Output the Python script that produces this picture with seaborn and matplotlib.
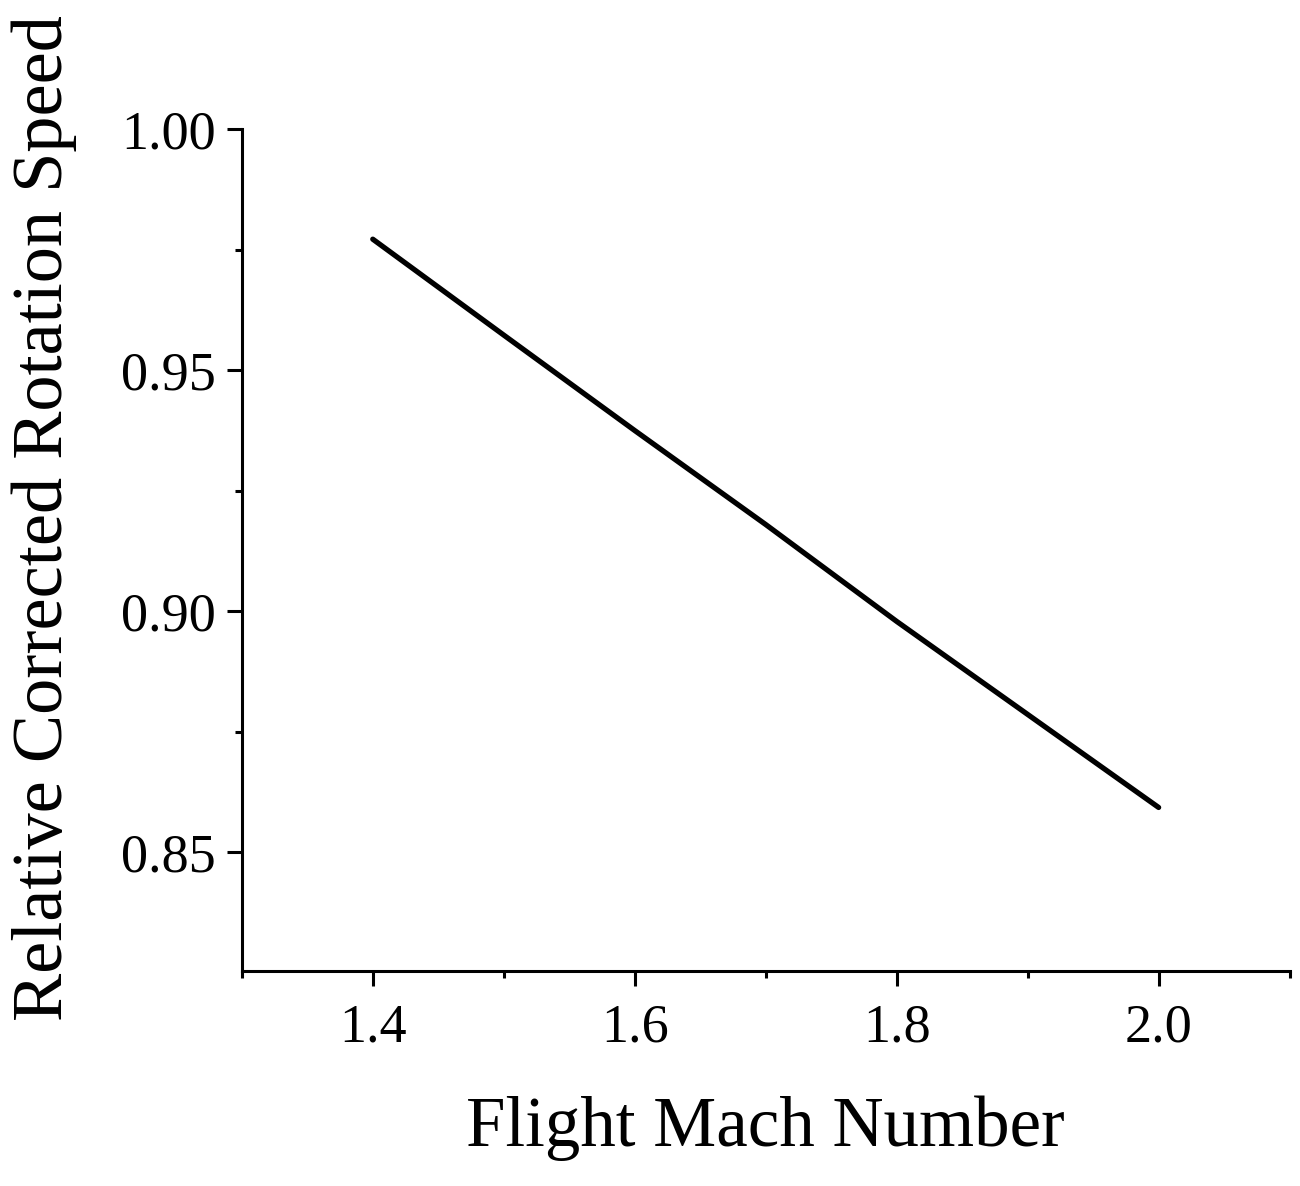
import matplotlib.pyplot as plt
from matplotlib.ticker import MultipleLocator
import pandas as pd
import seaborn as sns

# Data
mach = [1.4, 1.5, 1.6, 1.7, 1.8, 1.9, 2.0]
speed = [0.9772, 0.9573, 0.9375, 0.9180, 0.8979, 0.8786, 0.8593]

df = pd.DataFrame({'mach': mach, 'speed': speed})

sns.set_style('ticks')
plt.rcParams['font.family'] = ['Liberation Serif', 'DejaVu Serif']
plt.rcParams['text.color'] = 'black'
plt.rcParams['axes.labelcolor'] = 'black'

fig = plt.figure(figsize=(13, 11.86), dpi=100)
ax = fig.add_axes([0.186, 0.181, 0.806, 0.710])

sns.lineplot(data=df, x='mach', y='speed', color='black', linewidth=3.8, ax=ax)

ax.set_xlim(1.3, 2.1)
ax.set_ylim(0.8253, 1.0)
ax.xaxis.set_major_locator(MultipleLocator(0.2))
ax.xaxis.set_minor_locator(MultipleLocator(0.1))
ax.yaxis.set_major_locator(MultipleLocator(0.05))
ax.yaxis.set_minor_locator(MultipleLocator(0.025))
ax.xaxis.set_major_formatter(plt.FuncFormatter(lambda v, p: f'{v:.1f}'))
ax.yaxis.set_major_formatter(plt.FuncFormatter(lambda v, p: f'{v:.2f}'))

for s in ['top', 'right']:
    ax.spines[s].set_visible(False)
for s in ['left', 'bottom']:
    ax.spines[s].set_linewidth(2.2)
    ax.spines[s].set_color('black')

ax.tick_params(axis='both', which='major', direction='out', length=11, width=2.2,
               labelsize=39, colors='black', labelcolor='black')
ax.tick_params(axis='x', which='major', pad=12)
ax.tick_params(axis='y', which='major', pad=8)
ax.tick_params(axis='both', which='minor', direction='out', length=5, width=2.2,
               colors='black')

ax.set_xlabel('Flight Mach Number', fontsize=51, labelpad=30, color='black')
ax.set_ylabel('Relative Corrected Rotation Speed', fontsize=52, color='black')
ax.yaxis.set_label_coords(-0.157, 0.5386)

fig.savefig('out.png', dpi=100)
